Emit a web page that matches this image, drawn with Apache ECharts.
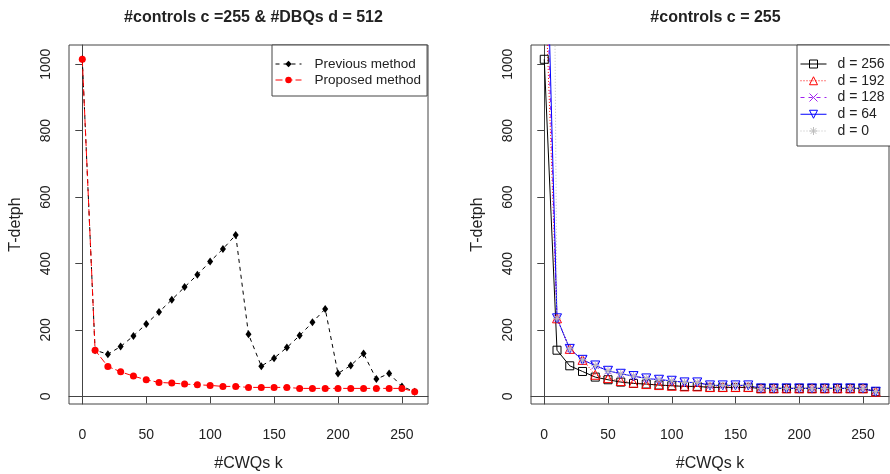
<!DOCTYPE html>
<html><head><meta charset="utf-8">
<script src="https://cdn.jsdelivr.net/npm/echarts@6/dist/echarts.min.js"></script>
<style>html,body{margin:0;padding:0;background:#fff}#c{width:890px;height:474px}</style>
</head><body><div id="c"></div>
<script>
// ---- data ----
const kValues = [0,10,20,30,40,50,60,70,80,90,100,110,120,130,140,150,160,170,180,190,200,210,220,230,240,250,260];
const xTicks = [0,50,100,150,200,250];
const yTicks = [0,200,400,600,800,1000];
const previousMethod = [1015,139,127,150,182,218,254,291,329,366,406,444,486,187,91,115,147,183,223,263,69,93,129,52,69,30,14];
const proposedMethod = [1015,139,90,74,61,50,42,40,37,35,33,30,30,27,27,27,27,24,24,24,24,24,24,24,24,24,14];
const d256 = [1015,139,92,75,58,50,43,39,37,34,32,30,30,27,27,27,27,24,24,24,24,24,24,24,24,24,14];
const d192 = [1320,235,143,110,65,55,46,41,37,34,32,30,30,28,28,28,28,24,24,24,24,24,24,24,24,24,14];
const d128 = [1500,235,143,110,93,77,68,61,54,50,47,42,42,33,33,33,33,24,24,24,24,24,24,24,24,24,14];
const d64  = [1670,235,143,110,93,77,68,61,54,50,47,42,42,33,33,33,33,24,24,24,24,24,24,24,24,24,14];
const d0   = [5500,235,143,110,93,77,68,61,54,50,47,42,42,33,33,33,33,24,24,24,24,24,24,24,24,24,14];
const leftTitle = '#controls c =255 & #DBQs d = 512';
const rightTitle = '#controls c = 255';
const xName = '#CWQs k';
const yName = 'T-detph';

const pairs = arr => kValues.map((k,i)=>[k,arr[i]]);
const FONT = '"Liberation Sans", Arial, sans-serif';
const TXT = '#222';

function xAx(idx){
  return {gridIndex: idx, type:'value', min:-10.4, max:270.4,
    axisLine:{show:true, lineStyle:{color:'#444'}},
    splitLine:{show:false},
    axisTick:{show:true, length:7, customValues:xTicks, lineStyle:{color:'#444'}},
    axisLabel:{customValues:xTicks, fontSize:14, fontFamily:FONT, color:TXT, margin:24, formatter:v=>String(v)},
    name:xName, nameLocation:'middle', nameGap:52,
    nameTextStyle:{fontSize:16, fontFamily:FONT, color:TXT}};
}
function yAx(idx){
  return {gridIndex: idx, type:'value', min:-23, max:1058,
    axisLine:{show:true, lineStyle:{color:'#444'}},
    splitLine:{show:false},
    axisTick:{show:true, length:7, customValues:yTicks, lineStyle:{color:'#444'}},
    axisLabel:{customValues:yTicks, rotate:90, fontSize:14, fontFamily:FONT, color:TXT, margin:16, formatter:v=>String(v)},
    name:yName, nameLocation:'middle', nameGap:45,
    nameTextStyle:{fontSize:16, fontFamily:FONT, color:TXT}};
}
const symRect = 'path://M0,0L10,0L10,10L0,10Z';
const symTri = 'path://M5,0L10,9L0,9Z';
const symTriDown = 'path://M0,0L10,0L5,9Z';
const symX = 'path://M0,0L10,10M10,0L0,10';
const symStar = 'path://M5,0L5,10M0,5L10,5M1.5,1.5L8.5,8.5M8.5,1.5L1.5,8.5';

function hollow(name, data, color, lineType, symbol, size){
  return {name, type:'line', xAxisIndex:1, yAxisIndex:1, data:pairs(data),
    symbol, symbolSize:size, showSymbol:true, clip:true,
    lineStyle:{color, width:1, type:lineType},
    itemStyle:{color:'rgba(0,0,0,0)', borderColor:color, borderWidth:1},
    emphasis:{disabled:true}, animation:false, z:2};
}

const chart = echarts.init(document.getElementById('c'), null, {renderer:'canvas'});
chart.setOption({
  animation:false,
  backgroundColor:'#fff',
  title:[
    {text:leftTitle, left:248.5, top:5, textAlign:'center', textStyle:{fontSize:16, fontWeight:'bold', fontFamily:FONT, color:TXT}},
    {text:rightTitle, left:710.5, top:5, textAlign:'center', textStyle:{fontSize:16, fontWeight:'bold', fontFamily:FONT, color:TXT}}
  ],
  grid:[
    {left:69, top:45, width:359, height:359, show:true, borderColor:'#444', borderWidth:1, backgroundColor:'transparent', containLabel:false, outerBoundsMode:'none'},
    {left:531, top:45, width:358, height:359, show:true, borderColor:'#444', borderWidth:1, backgroundColor:'transparent', containLabel:false, outerBoundsMode:'none'}
  ],
  xAxis:[xAx(0), xAx(1)],
  yAxis:[yAx(0), yAx(1)],
  legend:[
    {data:['Previous method','Proposed method'], orient:'vertical', left:272, top:45,
     padding:[11,6,8,3], itemWidth:26, itemHeight:8, itemGap:0,
     lineStyle:{width:1}, itemStyle:{borderWidth:1},
     backgroundColor:'#fff', borderColor:'#444', borderWidth:1, borderRadius:0,
     textStyle:{fontSize:13.5, fontFamily:FONT, color:TXT, lineHeight:16, padding:[0,0,0,8]},
     selectedMode:false},
    {data:['d = 256','d = 192','d = 128','d = 64','d = 0'], orient:'vertical', left:797, top:45,
     padding:[11,10,7,3], itemWidth:26, itemHeight:10, itemGap:0.75,
     lineStyle:{width:1}, itemStyle:{borderWidth:1},
     backgroundColor:'#fff', borderColor:'#444', borderWidth:1, borderRadius:0,
     textStyle:{fontSize:14, fontFamily:FONT, color:TXT, lineHeight:16, padding:[0,0,0,6]},
     selectedMode:false}
  ],
  series:[
    {name:'Previous method', type:'line', xAxisIndex:0, yAxisIndex:0, data:pairs(previousMethod),
     symbol:'diamond', symbolSize:[6,8], lineStyle:{color:'#000', width:1, type:[4,4]},
     itemStyle:{color:'#000'}, emphasis:{disabled:true}},
    {name:'Proposed method', type:'line', xAxisIndex:0, yAxisIndex:0, data:pairs(proposedMethod),
     symbol:'circle', symbolSize:7, lineStyle:{color:'#ff0000', width:1, type:[7,3]},
     itemStyle:{color:'#ff0000'}, emphasis:{disabled:true}},
    hollow('d = 256', d256, '#000000', 'solid', symRect, 8),
    hollow('d = 192', d192, '#ff0000', [1,2], symTri, 9),
    hollow('d = 128', d128, '#a020f0', [4,4], symX, 7),
    hollow('d = 64', d64, '#0000ff', 'solid', symTriDown, 9),
    hollow('d = 0', d0, '#bebebe', [1,2], symStar, 8)
  ]
});
</script></body></html>
